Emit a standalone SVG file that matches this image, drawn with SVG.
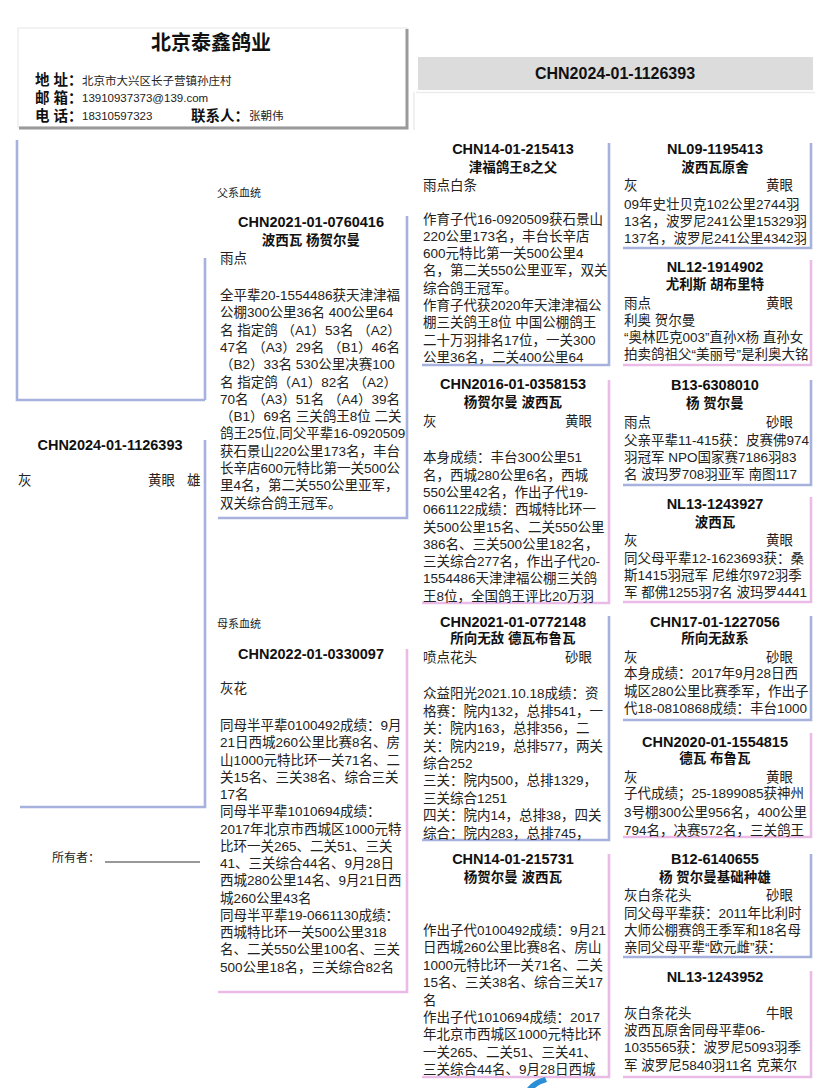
<svg xmlns="http://www.w3.org/2000/svg" width="828" height="1088" viewBox="0 0 828 1088">
<style>
text{font-family:"Liberation Sans","Noto Sans CJK SC",sans-serif;fill:#222}
.t{font-size:14.5px;font-weight:bold;text-anchor:middle;fill:#111}
.s{font-size:13.5px;font-weight:bold;text-anchor:middle;fill:#111}
.b{font-size:13.5px}
.r{font-size:13.5px;text-anchor:end}
.sm{font-size:11px}
.lb{font-size:14.5px;font-weight:bold;fill:#111}
.v{font-size:11.5px}
.blue{stroke:#a6b1de;stroke-width:2.6;fill:none}
.pink{stroke:#ebbbe8;stroke-width:2.6;fill:none}
</style>
<rect width="828" height="1088" fill="#fff"/>

<g id="header">
<rect x="18" y="28" width="389" height="99" fill="#fff" stroke="#e6e6e6" stroke-width="1"/>
<path d="M407 29 V128 H19" stroke="#9a9a9a" stroke-width="3" fill="none"/>
<text x="211" y="49.5" style="font-size:20px;font-weight:bold;fill:#111" text-anchor="middle">北京泰鑫鸽业</text>
<text class="lb" x="35" y="85">地 址：</text>
<text class="v" x="82" y="85">北京市大兴区长子营镇孙庄村</text>
<text class="lb" x="35" y="103">邮 箱：</text>
<text class="v" x="82" y="101.5">13910937373@139.com</text>
<text class="lb" x="35" y="120.5">电 话：</text>
<text class="v" x="82" y="119.5">18310597323</text>
<text class="lb" x="191" y="120.5">联系人：</text>
<text class="v" x="249" y="120">张朝伟</text>
</g>

<g id="pedigree-id">
<rect x="418" y="57" width="395" height="33" fill="#dcdcdc"/>
<path d="M416 92.5 H815 M414 92 V130" stroke="#ececec" stroke-width="1.5" fill="none"/>
<text x="615" y="79" style="font-size:16px;font-weight:bold;fill:#111" text-anchor="middle">CHN2024-01-1126393</text>
</g>

<g id="connectors">
<path class="blue" d="M17 140 V400 H205 M205 258 V400"/>
</g>

<g id="main-bird">
<path class="blue" d="M205 440 V807 H20"/>
<text class="t" x="110" y="450">CHN2024-01-1126393</text>
<text class="b" x="18" y="485">灰</text>
<text class="b" x="148" y="485">黄眼</text>
<text class="b" x="187" y="485">雄</text>
</g>

<g id="owner">
<text x="52" y="861.5" style="font-size:12px">所有者：</text>
<line x1="105" y1="862" x2="200" y2="862" stroke="#333" stroke-width="1"/>
</g>

<g id="sire">
<text class="sm" x="217" y="197">父系血统</text>
<path class="blue" d="M407 216 V518 H218"/>
<text class="t" x="311" y="227">CHN2021-01-0760416</text>
<text class="s" x="311" y="244.5">波西瓦 杨贺尔曼</text>
<text class="b" x="220" y="263.3">雨点</text>
<text class="b">
<tspan x="220" y="300">全平辈20-1554486获天津津福</tspan>
<tspan x="220" y="317.3">公棚300公里36名 400公里64</tspan>
<tspan x="220" y="334.6">名 指定鸽 （A1）53名 （A2）</tspan>
<tspan x="220" y="351.9">47名 （A3）29名 （B1）46名</tspan>
<tspan x="220" y="369.2">（B2）33名 530公里决赛100</tspan>
<tspan x="220" y="386.5">名 指定鸽（A1）82名 （A2）</tspan>
<tspan x="220" y="403.8">70名 （A3）51名 （A4）39名</tspan>
<tspan x="220" y="421.1">（B1）69名 三关鸽王8位 二关</tspan>
<tspan x="220" y="438.4">鸽王25位,同父平辈16-0920509</tspan>
<tspan x="220" y="455.7">获石景山220公里173名，丰台</tspan>
<tspan x="220" y="473">长辛店600元特比第一关500公</tspan>
<tspan x="220" y="490.3">里4名，第二关550公里亚军，</tspan>
<tspan x="220" y="507.6">双关综合鸽王冠军。</tspan>
</text>
</g>

<g id="dam">
<text class="sm" x="217" y="627.5">母系血统</text>
<path class="pink" d="M407 649 V992 H218"/>
<text class="t" x="311" y="658.5">CHN2022-01-0330097</text>
<text class="b" x="220" y="693.3">灰花</text>
<text class="b">
<tspan x="220" y="730">同母半平辈0100492成绩：9月</tspan>
<tspan x="220" y="747.3">21日西城260公里比赛8名、房</tspan>
<tspan x="220" y="764.5">山1000元特比环一关71名、二</tspan>
<tspan x="220" y="781.8">关15名、三关38名、综合三关</tspan>
<tspan x="220" y="799">17名</tspan>
<tspan x="220" y="816.3">同母半平辈1010694成绩：</tspan>
<tspan x="220" y="833.6">2017年北京市西城区1000元特</tspan>
<tspan x="220" y="850.8">比环一关265、二关51、三关</tspan>
<tspan x="220" y="868.1">41、三关综合44名、9月28日</tspan>
<tspan x="220" y="885.3">西城280公里14名、9月21日西</tspan>
<tspan x="220" y="902.6">城260公里43名</tspan>
<tspan x="220" y="919.9">同母半平辈19-0661130成绩：</tspan>
<tspan x="220" y="937.1">西城特比环一关500公里318</tspan>
<tspan x="220" y="954.4">名、二关550公里100名、三关</tspan>
<tspan x="220" y="971.6">500公里18名，三关综合82名</tspan>
</text>
</g>

<g id="ss">
<path class="blue" d="M609 143 V365 H422"/>
<text class="t" x="513" y="153.5">CHN14-01-215413</text>
<text class="s" x="513" y="171.5">津福鸽王8之父</text>
<text class="b" x="423" y="189.5">雨点白条</text>
<text class="b">
<tspan x="423" y="223.5">作育子代16-0920509获石景山</tspan>
<tspan x="423" y="240.8">220公里173名，丰台长辛店</tspan>
<tspan x="423" y="258.1">600元特比第一关500公里4</tspan>
<tspan x="423" y="275.4">名，第二关550公里亚军，双关</tspan>
<tspan x="423" y="292.7">综合鸽王冠军。</tspan>
<tspan x="423" y="310">作育子代获2020年天津津福公</tspan>
<tspan x="423" y="327.3">棚三关鸽王8位 中国公棚鸽王</tspan>
<tspan x="423" y="344.6">二十万羽排名17位，一关300</tspan>
<tspan x="423" y="361.9">公里36名，二关400公里64</tspan>
</text>
</g>

<g id="sd">
<path class="pink" d="M609 380 V603 H422"/>
<text class="t" x="513" y="389.2">CHN2016-01-0358153</text>
<text class="s" x="513" y="407.3">杨贺尔曼 波西瓦</text>
<text class="b" x="423" y="426">灰</text>
<text class="r" x="592" y="426">黄眼</text>
<text class="b">
<tspan x="423" y="462.3">本身成绩：丰台300公里51</tspan>
<tspan x="423" y="479.6">名，西城280公里6名，西城</tspan>
<tspan x="423" y="496.9">550公里42名，作出子代19-</tspan>
<tspan x="423" y="514.2">0661122成绩：西城特比环一</tspan>
<tspan x="423" y="531.5">关500公里15名、二关550公里</tspan>
<tspan x="423" y="548.8">386名、三关500公里182名，</tspan>
<tspan x="423" y="566.1">三关综合277名，作出子代20-</tspan>
<tspan x="423" y="583.4">1554486天津津福公棚三关鸽</tspan>
<tspan x="423" y="600.7">王8位，全国鸽王评比20万羽</tspan>
</text>
</g>

<g id="ds">
<path class="blue" d="M609 616 V840 H422"/>
<text class="t" x="513" y="627">CHN2021-01-0772148</text>
<text class="s" x="513" y="643.3">所向无敌 德瓦布鲁瓦</text>
<text class="b" x="423" y="661.7">喷点花头</text>
<text class="r" x="592" y="661.7">砂眼</text>
<text class="b">
<tspan x="423" y="698.3">众益阳光2021.10.18成绩：资</tspan>
<tspan x="423" y="715.7">格赛：院内132，总排541，一</tspan>
<tspan x="423" y="733.1">关：院内163，总排356，二</tspan>
<tspan x="423" y="750.5">关：院内219，总排577，两关</tspan>
<tspan x="423" y="767.9">综合252</tspan>
<tspan x="423" y="785.3">三关：院内500，总排1329，</tspan>
<tspan x="423" y="802.7">三关综合1251</tspan>
<tspan x="423" y="820.1">四关：院内14，总排38，四关</tspan>
<tspan x="423" y="837.5">综合：院内283，总排745，</tspan>
</text>
</g>

<g id="dd">
<path class="pink" d="M609 854 V1077 H422"/>
<text class="t" x="513" y="863.5">CHN14-01-215731</text>
<text class="s" x="513" y="881.7">杨贺尔曼 波西瓦</text>
<text class="b">
<tspan x="423" y="935">作出子代0100492成绩：9月21</tspan>
<tspan x="423" y="952.4">日西城260公里比赛8名、房山</tspan>
<tspan x="423" y="969.8">1000元特比环一关71名、二关</tspan>
<tspan x="423" y="987.2">15名、三关38名、综合三关17</tspan>
<tspan x="423" y="1004.6">名</tspan>
<tspan x="423" y="1022">作出子代1010694成绩：2017</tspan>
<tspan x="423" y="1039.4">年北京市西城区1000元特比环</tspan>
<tspan x="423" y="1056.8">一关265、二关51、三关41、</tspan>
<tspan x="423" y="1074.2">三关综合44名、9月28日西城</tspan>
</text>
</g>

<g id="sss">
<path class="blue" d="M811 143 V248 H623"/>
<text class="t" x="715" y="153.5">NL09-1195413</text>
<text class="s" x="715" y="172">波西瓦原舍</text>
<text class="b" x="624" y="190">灰</text>
<text class="r" x="793" y="190">黄眼</text>
<text class="b">
<tspan x="624" y="208.5">09年史壮贝克102公里2744羽</tspan>
<tspan x="624" y="225.5">13名，波罗尼241公里15329羽</tspan>
<tspan x="624" y="242.5">137名，波罗尼241公里4342羽</tspan>
</text>
</g>

<g id="ssd">
<path class="pink" d="M811 260 V365 H623"/>
<text class="t" x="715" y="271.7">NL12-1914902</text>
<text class="s" x="715" y="289">尤利斯 胡布里特</text>
<text class="b" x="624" y="307.5">雨点</text>
<text class="r" x="793" y="307.5">黄眼</text>
<text class="b">
<tspan x="624" y="324.5">利奥 贺尔曼</tspan>
<tspan x="624" y="341.5">“奥林匹克003”直孙X杨 直孙女</tspan>
<tspan x="624" y="358.5">拍卖鸽祖父“美丽号”是利奥大铭</tspan>
</text>
</g>

<g id="sds">
<path class="blue" d="M811 380 V485 H623"/>
<text class="t" x="715" y="390.2">B13-6308010</text>
<text class="s" x="715" y="408.3">杨 贺尔曼</text>
<text class="b" x="624" y="426.7">雨点</text>
<text class="r" x="793" y="426.7">砂眼</text>
<text class="b">
<tspan x="624" y="445">父亲平辈11-415获：皮赛佛974</tspan>
<tspan x="624" y="462.3">羽冠军 NPO国家赛7186羽83</tspan>
<tspan x="624" y="479">名 波玛罗708羽亚军 南图117</tspan>
</text>
</g>

<g id="sdd">
<path class="pink" d="M811 497 V602 H623"/>
<text class="t" x="715" y="508.5">NL13-1243927</text>
<text class="s" x="715" y="526.7">波西瓦</text>
<text class="b" x="624" y="545">灰</text>
<text class="r" x="793" y="545">黄眼</text>
<text class="b">
<tspan x="624" y="563.3">同父母平辈12-1623693获：桑</tspan>
<tspan x="624" y="580">斯1415羽冠军 尼维尔972羽季</tspan>
<tspan x="624" y="596.7">军 都佛1255羽7名 波玛罗4441</tspan>
</text>
</g>

<g id="dss">
<path class="blue" d="M811 616 V720 H623"/>
<text class="t" x="715" y="627">CHN17-01-1227056</text>
<text class="s" x="715" y="643.3">所向无敌系</text>
<text class="b" x="624" y="661.7">灰</text>
<text class="r" x="793" y="661.7">砂眼</text>
<text class="b">
<tspan x="624" y="678.3">本身成绩：2017年9月28日西</tspan>
<tspan x="624" y="696">城区280公里比赛季军，作出子</tspan>
<tspan x="624" y="713.3">代18-0810868成绩：丰台1000</tspan>
</text>
</g>

<g id="dsd">
<path class="pink" d="M811 733 V837 H623"/>
<text class="t" x="715" y="747">CHN2020-01-1554815</text>
<text class="s" x="715" y="763.3">德瓦 布鲁瓦</text>
<text class="b" x="624" y="781.7">灰</text>
<text class="r" x="793" y="781.7">黄眼</text>
<text class="b">
<tspan x="624" y="798.3">子代成绩；25-1899085获神州</tspan>
<tspan x="624" y="816.7">3号棚300公里956名，400公里</tspan>
<tspan x="624" y="834.5">794名，决赛572名，三关鸽王</tspan>
</text>
</g>

<g id="dds">
<path class="blue" d="M811 854 V957 H623"/>
<text class="t" x="715" y="863.5">B12-6140655</text>
<text class="s" x="715" y="881.7">杨 贺尔曼基础种雄</text>
<text class="b" x="624" y="900">灰白条花头</text>
<text class="r" x="793" y="900">砂眼</text>
<text class="b">
<tspan x="624" y="918.3">同父母平辈获：2011年比利时</tspan>
<tspan x="624" y="935">大师公棚赛鸽王季军和18名母</tspan>
<tspan x="624" y="951.7">亲同父母平辈“欧元雌”获：</tspan>
</text>
</g>

<g id="ddd">
<path class="pink" d="M811 971 V1077 H623"/>
<text class="t" x="715" y="982">NL13-1243952</text>
<text class="b" x="624" y="1018.3">灰白条花头</text>
<text class="r" x="793" y="1018.3">牛眼</text>
<text class="b">
<tspan x="624" y="1035">波西瓦原舍同母平辈06-</tspan>
<tspan x="624" y="1051.7">1035565获：波罗尼5093羽季</tspan>
<tspan x="624" y="1070">军 波罗尼5840羽11名 克莱尔</tspan>
</text>
</g>

<path d="M527 1088 Q533 1080 545 1077 L547 1082 Q539 1084 535 1088 Z" fill="#2a8fd6"/>
</svg>
